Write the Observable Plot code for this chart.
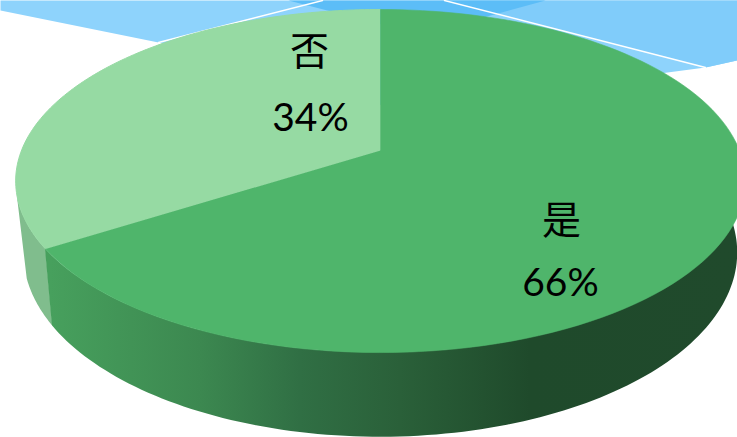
<!DOCTYPE html>
<html>
<head>
<meta charset="utf-8">
<script src="https://cdn.jsdelivr.net/npm/d3@7"></script>
<script src="https://cdn.jsdelivr.net/npm/@observablehq/plot@0.6"></script>
<style>html,body{margin:0;padding:0;background:#fff;overflow:hidden}svg{display:block}</style>
</head>
<body>
<div id="chart"></div>
<script>
const categories = ["是", "否"];
const shares = [66, 34];
const shareLabels = ["66%", "34%"];

// Backdrop decoration, in picture units
const backdropLight = [[0,0],[0,10],[158,42],[400,110],[667,72],[705,67],[737,60],[737,0]];
const backdropRight = [[444,0],[705,67],[737,60],[737,0]];
const backdropDark = [[288,0],[420,34],[545,0]];
const whiteLines = [[[158,42],[322,0]], [[444,0],[705,67]]];

// Perspective of the tilted disc
const cx = 380, k = 359, kBase = 351.5, a = 139.4, c = -0.178, bTop = 150, bBase = 219.6;
const project = (deg, base) => {
  const t = deg * Math.PI / 180, u = Math.sin(t), v = -Math.cos(t), w = 1 + c * v;
  return {x: cx + (base ? kBase : k) * u / w, y: (a * v + (base ? bBase : bTop)) / w};
};

// Sector boundaries from the shares
const total = d3.sum(shares);
const seam = shares[0] / total * 360;
const range = (from, to, n) => d3.range(n + 1).map(i => from + (to - from) * i / n);
const sector = (from, to) => [{x: cx, y: bTop}, ...range(from, to, 120).map(d => project(d, false))];

const wall = (from, to) => range(from, to, 120).map(d => {
  const t = project(d, false), b = project(d, true);
  return {x1: t.x, y1: t.y, x2: b.x, y2: b.y};
});
// Visible side of the smaller slice: base edge, then the silhouette up to the top edge
const wallSmall = [
  ...range(seam, 252, 30).map(d => project(d, true)),
  ...range(256, seam, 30).map(d => project(d, false))
];

// Side wall shading by horizontal position
const shadeAt = [50, 200, 300, 400, 530, 737];
const shadeColors = ["#47a05d", "#3c8850", "#306f44", "#2a6039", "#1f4a2b", "#204a2c"];
const wallGradient = () => {
  const defs = d3.create("svg:defs");
  const g = defs.append("linearGradient").attr("id", "wall-shade")
    .attr("gradientUnits", "userSpaceOnUse")
    .attr("x1", shadeAt[0]).attr("x2", shadeAt[shadeAt.length - 1]).attr("y1", 0).attr("y2", 0);
  shadeAt.forEach((x, i) => g.append("stop")
    .attr("offset", (x - shadeAt[0]) / (shadeAt[shadeAt.length - 1] - shadeAt[0]))
    .attr("stop-color", shadeColors[i]));
  return defs.node();
};

const poly = (pts) => pts.map(([x, y]) => ({x, y}));
const filled = (pts, fill) => Plot.line(poly(pts), {x: "x", y: "y", fill, stroke: null});

const kai = "'Noto Sans CJK SC', sans-serif";
const num = "Lato, sans-serif";

const plot = Plot.plot({
  width: 737, height: 437, margin: 0,
  x: {domain: [0, 737], range: [0, 737], axis: null},
  y: {domain: [0, 437], range: [0, 437], axis: null},
  style: {background: "#fff"},
  marks: [
    wallGradient,
    filled(backdropLight, "#8ed3fc"),
    filled(backdropRight, "#80ccfa"),
    filled(backdropDark, "#5cbdf7"),
    ...whiteLines.map(l => Plot.line(poly(l), {x: "x", y: "y", stroke: "#fff", strokeWidth: 1.4})),
    Plot.line(wallSmall, {x: "x", y: "y", fill: "#80bd8d", stroke: null}),
    Plot.area(wall(seam, 90), {x1: "x1", y1: "y1", x2: "x2", y2: "y2", fill: "url(#wall-shade)"}),
    Plot.line(sector(seam, 360), {x: "x", y: "y", fill: "#96daa3", stroke: "#96daa3", strokeWidth: 1}),
    Plot.line(sector(0, seam), {x: "x", y: "y", fill: "#4fb56b", stroke: "#4fb56b", strokeWidth: 0.6}),
    Plot.text([categories[1]], {x: () => 309, y: () => 52, text: d => d, fontSize: 39, fontFamily: kai, fill: "#000"}),
    Plot.text([shareLabels[1]], {x: () => 310, y: () => 118, text: d => d, fontSize: 39, fontFamily: num, fill: "#000"}),
    Plot.text([categories[0]], {x: () => 561, y: () => 221, text: d => d, fontSize: 39, fontFamily: kai, fill: "#000"}),
    Plot.text([shareLabels[0]], {x: () => 560, y: () => 283, text: d => d, fontSize: 39, fontFamily: num, fill: "#000"})
  ]
});
document.getElementById("chart").appendChild(plot);
</script>
</body>
</html>
